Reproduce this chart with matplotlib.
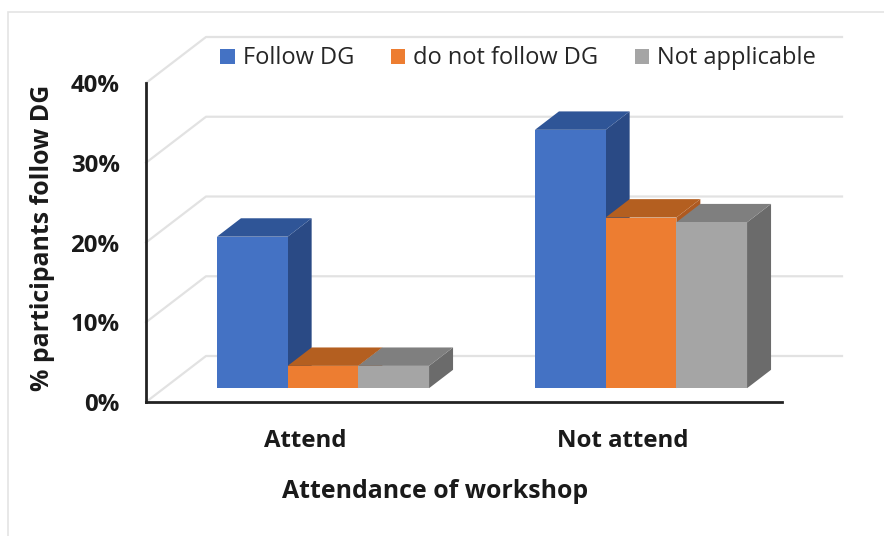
import numpy as np
import matplotlib
matplotlib.use("Agg")
import matplotlib.pyplot as plt
from matplotlib.patches import Polygon, Rectangle

plt.rcParams['font.family'] = ['Open Sans', 'DejaVu Sans']

categories = ['Attend', 'Not attend']
follow_dg = [19.0, 32.4]
not_follow_dg = [2.8, 21.4]
not_applicable = [2.8, 20.8]
y_ticks = [0, 10, 20, 30, 40]
y_labels = ['0%', '10%', '20%', '30%', '40%']

series_names = ['Follow DG', 'do not follow DG', 'Not applicable']
series_values = [follow_dg, not_follow_dg, not_applicable]
front_cols = ['#4472C4', '#ED7D31', '#A5A5A5']
top_cols = ['#2F5597', '#B45F20', '#7F7F7F']
side_cols = ['#2A4A85', '#AE5A21', '#6B6B6B']

W, H = 884, 536
fig = plt.figure(figsize=(W / 100, H / 100), dpi=100)
fig.patch.set_facecolor('white')
# axes = the front plane of the fake 3d box
ax = fig.add_axes([146 / W, 1 - 402 / H, 636 / W, 319 / H])
ax.set_xlim(-0.5, 1.5)
ax.set_ylim(0, 40)
ax.patch.set_alpha(0)

# outer chart frame
fig.patches.append(Rectangle((8 / W, -0.1), 1, 1 - 12 / H + 0.1, transform=fig.transFigure,
                             fc='none', ec='#E4E4E4', lw=1.2))

# depth of the box, in data units
DX = 60 / 318
DY = 46 / 319 * 40
BAR_D0 = 0.30
BAR_D1 = 0.70
bar_w = 70.7 / 318


def dp(x, y, d):
    return (x + d * DX, y + d * DY)


# walls and gridlines
for v in y_ticks:
    xs = [-0.5, -0.5 + DX, 1.5 + DX]
    ys = [v, v + DY, v + DY]
    ax.plot(xs, ys, color='#E2E2E2', lw=1.6, clip_on=False, zorder=1)

# bars, left to right so the later ones cover the sides
for i in range(len(categories)):
    for j in range(3):
        v = series_values[j][i]
        x0 = i + (j - 1.5) * bar_w
        x1 = x0 + bar_w
        front = [dp(x0, 0, BAR_D0), dp(x1, 0, BAR_D0), dp(x1, v, BAR_D0), dp(x0, v, BAR_D0)]
        top = [dp(x0, v, BAR_D0), dp(x1, v, BAR_D0), dp(x1, v, BAR_D1), dp(x0, v, BAR_D1)]
        side = [dp(x1, 0, BAR_D0), dp(x1, 0, BAR_D1), dp(x1, v, BAR_D1), dp(x1, v, BAR_D0)]
        z = 3 + i * 10 + j
        ax.add_patch(Polygon(side, fc=side_cols[j], ec='none', clip_on=False, zorder=z))
        ax.add_patch(Polygon(top, fc=top_cols[j], ec='none', clip_on=False, zorder=z))
        ax.add_patch(Polygon(front, fc=front_cols[j], ec='none', clip_on=False, zorder=z))

for s in ['top', 'right']:
    ax.spines[s].set_visible(False)
for s in ['left', 'bottom']:
    ax.spines[s].set_linewidth(2)
    ax.spines[s].set_color('#222222')
    ax.spines[s].set_zorder(50)

label_size = 17.3
ax.set_xticks(range(len(categories)))
ax.set_xticklabels(categories, fontsize=label_size, fontweight='bold', color='#1a1a1a')
ax.set_yticks(y_ticks)
ax.set_yticklabels(y_labels, fontsize=label_size, fontweight='bold', color='#1a1a1a')
ax.tick_params(axis='x', length=0, pad=19.5)
ax.tick_params(axis='y', length=0, pad=19)
ax.set_xlabel('Attendance of workshop', fontsize=17.9, fontweight='bold', color='#1a1a1a',
              labelpad=19, x=0.454)
ax.set_ylabel('% participants follow DG', fontsize=17.9, fontweight='bold', color='#1a1a1a',
              labelpad=11, y=0.515)

handles = [Rectangle((0, 0), 1, 1, fc=c, ec='none') for c in front_cols]
leg = fig.legend(handles, series_names, loc='center', bbox_to_anchor=(518 / W, 1 - 58.5 / H), ncol=3,
                 frameon=False, fontsize=17, handlelength=0.6, handleheight=0.6,
                 handletextpad=0.34, columnspacing=1.55, labelcolor='#262626')

fig.savefig('out.png', dpi=100)
